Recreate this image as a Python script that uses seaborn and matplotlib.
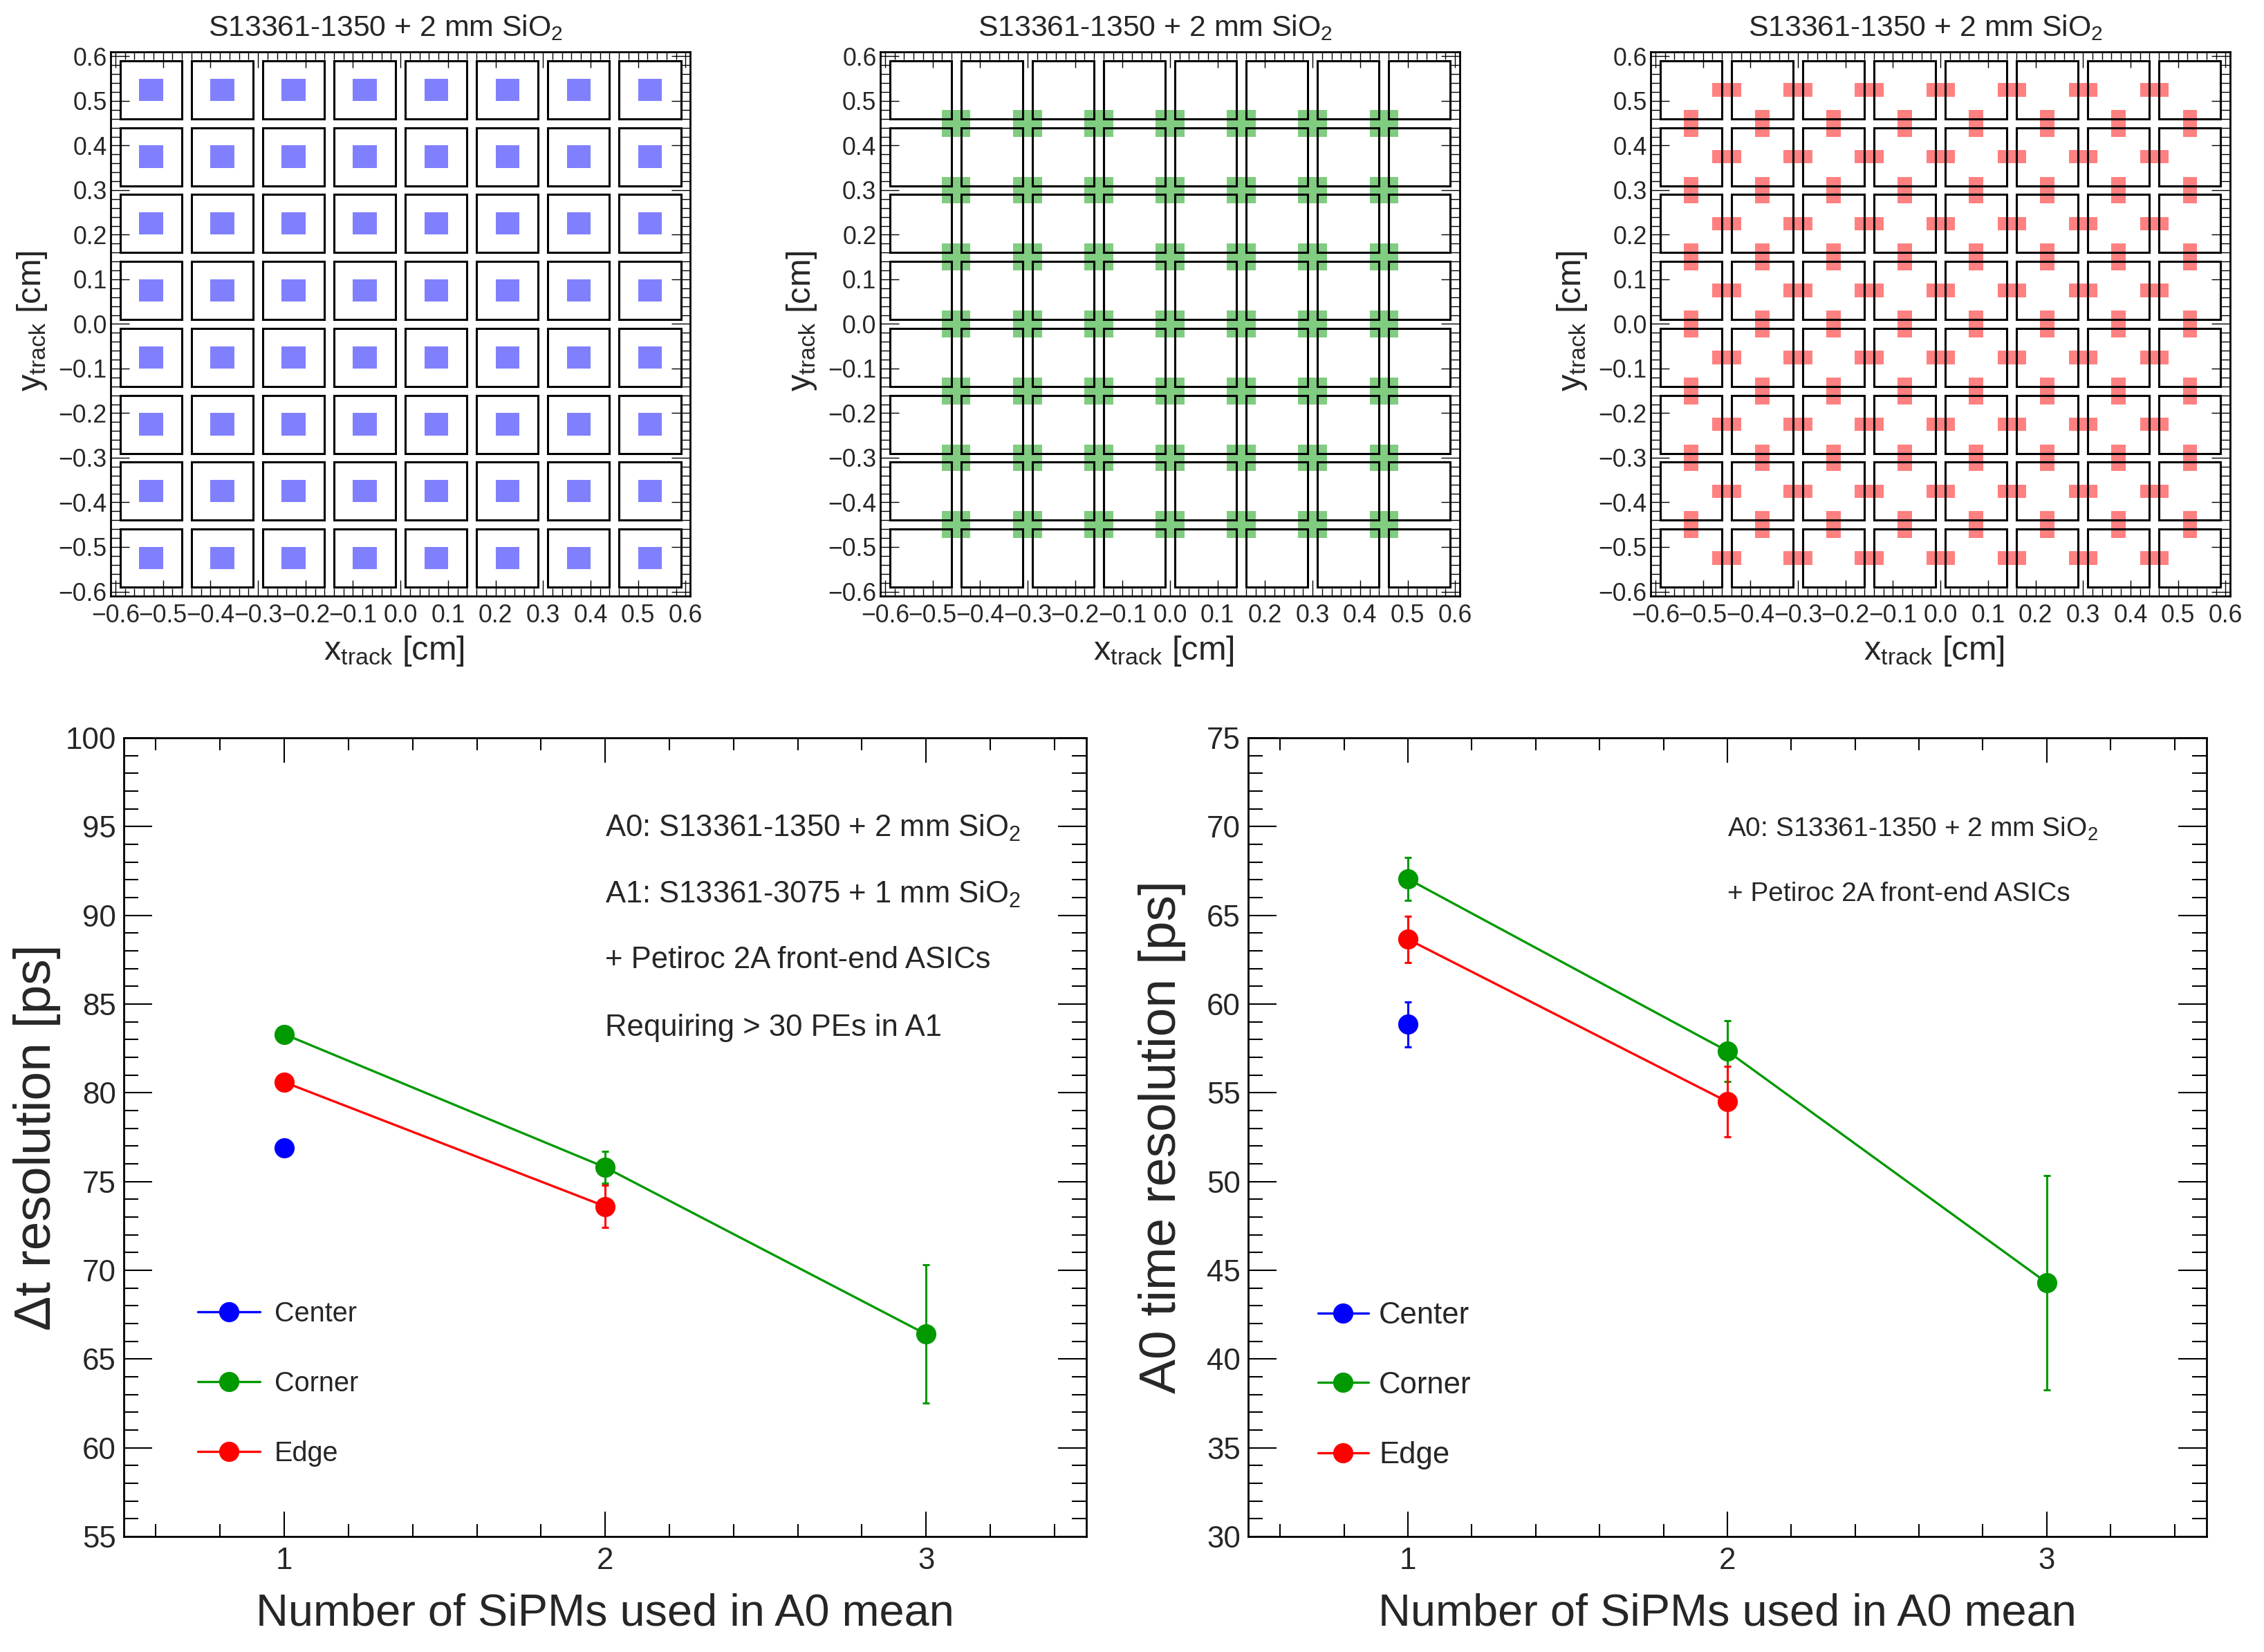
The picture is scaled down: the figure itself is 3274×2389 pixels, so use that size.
import matplotlib
matplotlib.use("Agg")
import matplotlib.pyplot as plt
from matplotlib import font_manager
from matplotlib.patches import Rectangle
from matplotlib.ticker import MultipleLocator, FuncFormatter
import seaborn as sns
import pandas as pd

# SiPM array geometry [cm]
sipm_centers = [-0.525, -0.375, -0.225, -0.075, 0.075, 0.225, 0.375, 0.525]
sipm_gaps = [-0.45, -0.30, -0.15, 0.0, 0.15, 0.30, 0.45]
sipm_size = 0.13

# selected track regions
center_size = 0.05
corner_size = 0.06
edge_long = 0.06
edge_short = 0.03

# resolution vs number of SiPMs
n_sipms = [1, 2, 3]

dt_center = [76.9]
dt_center_err = [0.4]
dt_corner = [83.3, 75.8, 66.4]
dt_corner_err = [0.4, 0.9, 3.9]
dt_edge = [80.6, 73.6]
dt_edge_err = [0.4, 1.2]

a0_center = [58.85]
a0_center_err = [1.25]
a0_corner = [67.05, 57.35, 44.3]
a0_corner_err = [1.2, 1.7, 6.05]
a0_edge = [63.65, 54.5]
a0_edge_err = [1.3, 2.0]

positions = ["Center", "Corner", "Edge"]
line_colors = {"Center": "#0000ff", "Corner": "#009900", "Edge": "#ff0000"}
fill_colors = {"Center": "#8080ff", "Corner": "#80cc80", "Edge": "#ff8080"}

sns.set_style("ticks")
names = {f.name for f in font_manager.fontManager.ttflist}
REG = "Liberation Sans" if "Liberation Sans" in names else "DejaVu Sans"
if "Liberation Sans Narrow" in names:
    NARROW, nf = "Liberation Sans Narrow", 1.0
else:
    NARROW, nf = REG, 0.85
plt.rcParams["font.family"] = [REG, "DejaVu Sans"]
plt.rcParams["mathtext.default"] = "regular"
plt.rcParams["axes.unicode_minus"] = True

fig = plt.figure(figsize=(3274 / 200, 2389 / 200), dpi=200)
fig.patch.set_facecolor("white")


def one_dec(v, pos):
    s = f"{v:.1f}"
    if s == "-0.0":
        s = "0.0"
    return s.replace("-", "\u2212")


def sipm_map(ax, boxes, color):
    for (x, y, w, h) in boxes:
        ax.add_patch(Rectangle((x - w / 2, y - h / 2), w, h,
                               facecolor=color, edgecolor="none", zorder=1))
    for cx in sipm_centers:
        for cy in sipm_centers:
            ax.add_patch(Rectangle((cx - sipm_size / 2, cy - sipm_size / 2),
                                   sipm_size, sipm_size, fill=False,
                                   edgecolor="black", linewidth=1.1, zorder=2))
    ax.set_xlim(-0.61, 0.61)
    ax.set_ylim(-0.61, 0.61)
    ax.set_facecolor("white")
    for s in ax.spines.values():
        s.set_visible(True)
        s.set_linewidth(1.0)
        s.set_color("black")
    ax.xaxis.set_major_locator(MultipleLocator(0.1))
    ax.xaxis.set_minor_locator(MultipleLocator(0.02))
    ax.yaxis.set_major_locator(MultipleLocator(0.1))
    ax.yaxis.set_minor_locator(MultipleLocator(0.02))
    ax.xaxis.set_major_formatter(FuncFormatter(one_dec))
    ax.yaxis.set_major_formatter(FuncFormatter(one_dec))
    ax.tick_params(which="both", direction="in", top=True, right=True,
                   width=0.5, color="black", labelsize=12.8)
    ax.tick_params(axis="x", which="major", length=8.3, pad=4)
    ax.tick_params(axis="x", which="minor", length=3.8)
    ax.tick_params(axis="y", which="major", length=9.7, pad=2)
    ax.tick_params(axis="y", which="minor", length=4.7)
    ax.text(0.474, 1.029, "S13361-1350 + 2 mm SiO$_2$", transform=ax.transAxes,
            ha="center", va="baseline", fontsize=15.4)
    ax.text(0.489, -0.117, "x$_{track}$ [cm]", transform=ax.transAxes,
            ha="center", va="baseline", fontsize=17.5)
    ax.text(-0.135, 0.505, "y$_{track}$ [cm]", transform=ax.transAxes,
            ha="center", va="center", rotation=90, fontsize=17.5)


center_boxes = [(cx, cy, center_size, center_size)
                for cx in sipm_centers for cy in sipm_centers]
corner_boxes = [(gx, gy, corner_size, corner_size)
                for gx in sipm_gaps for gy in sipm_gaps]
edge_boxes = ([(gx, cy, edge_long, edge_short) for gx in sipm_gaps for cy in sipm_centers]
              + [(cx, gy, edge_short, edge_long) for cx in sipm_centers for gy in sipm_gaps])

top_lefts = [0.0489, 0.3888, 0.7291]
for left, boxes, pos in zip(top_lefts, [center_boxes, corner_boxes, edge_boxes], positions):
    ax = fig.add_axes([left, 0.6392, 0.2560, 0.3294])
    sipm_map(ax, boxes, fill_colors[pos])


def res_panel(ax, values, errors, ylim, ylabel, notes, note_size, legend_x, legend_y, legend_size):
    rows = []
    for pos in positions:
        for n, v, e in zip(n_sipms, values[pos], errors[pos]):
            rows.append({"n": n, "res": v, "err": e, "pos": pos})
    df = pd.DataFrame(rows)

    for pos in positions:
        d = df[df["pos"] == pos]
        ax.errorbar(d["n"], d["res"], yerr=d["err"], fmt="none",
                    ecolor=line_colors[pos], elinewidth=1.1, capsize=1.8,
                    capthick=1.1, zorder=2)
    sns.lineplot(data=df, x="n", y="res", hue="pos", palette=line_colors,
                 hue_order=positions, marker="o", markersize=10.5,
                 markeredgewidth=0, linewidth=1.2, legend=False,
                 errorbar=None, sort=True, ax=ax, zorder=3)

    ax.set_xlim(0.5, 3.5)
    ax.set_ylim(*ylim)
    ax.set_xticks(n_sipms)
    ax.xaxis.set_minor_locator(MultipleLocator(0.2))
    ax.yaxis.set_major_locator(MultipleLocator(5))
    ax.yaxis.set_minor_locator(MultipleLocator(1))
    ax.set_xlabel("")
    ax.set_ylabel("")
    for s in ax.spines.values():
        s.set_visible(True)
        s.set_linewidth(1.0)
        s.set_color("black")
    ax.tick_params(which="both", direction="in", top=True, right=True,
                   width=0.75, color="black", labelsize=18.6 * nf,
                   labelfontfamily=NARROW)
    ax.tick_params(axis="x", which="major", length=12.8, pad=5.4)
    ax.tick_params(axis="x", which="minor", length=6.6)
    ax.tick_params(axis="y", which="major", length=14.6, pad=4)
    ax.tick_params(axis="y", which="minor", length=7.4)

    ax.text(0.5, -0.111, "Number of SiPMs used in A0 mean", transform=ax.transAxes,
            ha="center", va="baseline", fontsize=27.5 * nf, fontfamily=NARROW)
    ax.text(-0.09, 0.5, ylabel, transform=ax.transAxes, ha="center", va="center",
            rotation=90, fontsize=27)

    for (ty, txt) in notes:
        ax.text(0.5, ty, txt, transform=ax.transAxes, ha="left", va="baseline",
                fontsize=note_size * nf, fontfamily=NARROW)

    # legend
    x0, x1, xm, xt = legend_x
    ax_h = ax.get_position().height * fig.get_figheight() * 72
    cap_off = 0.716 * legend_size * nf / 2 / ax_h
    for pos, ly in zip(positions, legend_y):
        ax.plot([x0, x1], [ly, ly], color=line_colors[pos], linewidth=1.2,
                transform=ax.transAxes, clip_on=False)
        ax.plot([xm], [ly], marker="o", markersize=10.5, markeredgewidth=0,
                color=line_colors[pos], transform=ax.transAxes, clip_on=False)
        ax.text(xt, ly - cap_off, pos, transform=ax.transAxes, ha="left",
                va="baseline", fontsize=legend_size * nf, fontfamily=NARROW)


ax_dt = fig.add_axes([0.0547, 0.0699, 0.4252, 0.4835])
res_panel(ax_dt,
          {"Center": dt_center, "Corner": dt_corner, "Edge": dt_edge},
          {"Center": dt_center_err, "Corner": dt_corner_err, "Edge": dt_edge_err},
          (55, 100), "\u0394t resolution [ps]",
          [(0.8766, "A0: S13361-1350 + 2 mm SiO$_2$"),
           (0.7933, "A1: S13361-3075 + 1 mm SiO$_2$"),
           (0.7117, "+ Petiroc 2A front-end ASICs"),
           (0.627, "Requiring > 30 PEs in A1")],
          18.5,
          (0.077, 0.1418, 0.1089, 0.1566), (0.2814, 0.1939, 0.1065), 16.8)

ax_a0 = fig.add_axes([0.5513, 0.0699, 0.4233, 0.4835])
res_panel(ax_a0,
          {"Center": a0_center, "Corner": a0_corner, "Edge": a0_edge},
          {"Center": a0_center_err, "Corner": a0_corner_err, "Edge": a0_edge_err},
          (30, 75), "A0 time resolution [ps]",
          [(0.8766, "A0: S13361-1350 + 2 mm SiO$_2$"),
           (0.7957, "+ Petiroc 2A front-end ASICs")],
          16.5,
          (0.073, 0.1255, 0.0989, 0.1364), (0.280, 0.193, 0.105), 18.5)

fig.savefig("out.png", dpi=200, facecolor="white")
